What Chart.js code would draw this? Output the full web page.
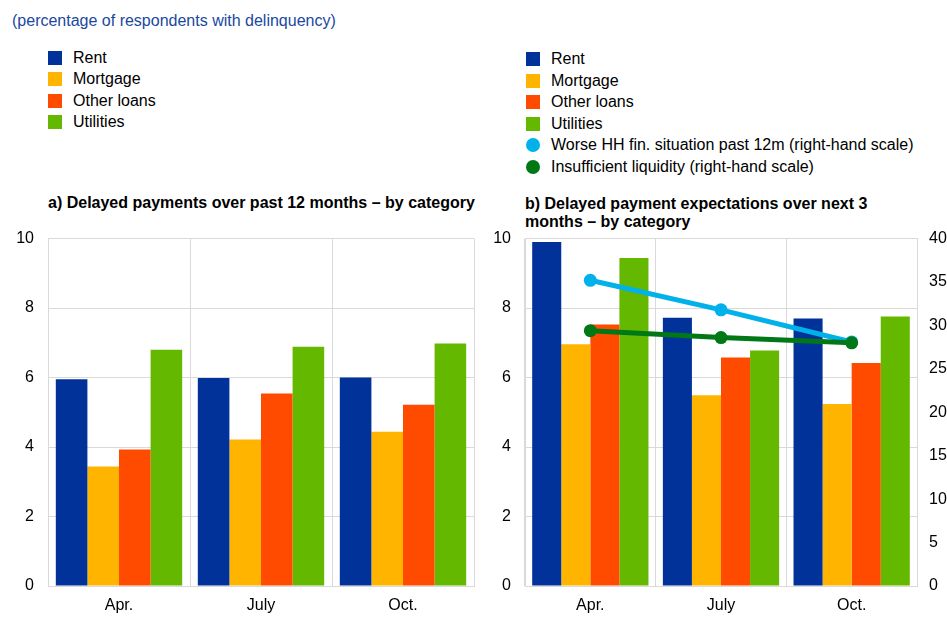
<!DOCTYPE html>
<html>
<head>
<meta charset="utf-8">
<script src="https://cdn.jsdelivr.net/npm/chart.js@4.4.1/dist/chart.umd.min.js"></script>
<style>
  html, body { margin: 0; padding: 0; background: #fff; }
  body { width: 947px; height: 627px; position: relative; overflow: hidden;
         font-family: "Liberation Sans", Arial, sans-serif; color: #000; }
  .unit { position: absolute; left: 12px; top: 12px; font-size: 16px; color: #1a48a0; }
  .legend { position: absolute; font-size: 16px; line-height: 21.6px; }
  .legend div { position: relative; padding-left: 25px; white-space: nowrap; }
  .legend i { position: absolute; left: 0; top: 4px; width: 14px; height: 14px; }
  .legend i.dot { border-radius: 50%; }
  .title { position: absolute; font-size: 16px; font-weight: bold; line-height: 18px; }
  canvas { position: absolute; }
</style>
</head>
<body>
<div class="unit">(percentage of respondents with delinquency)</div>
<div class="legend" id="legendA" style="left:48px; top:46.5px;"></div>
<div class="legend" id="legendB" style="left:526px; top:48px;"></div>
<div class="title" style="left:48px; top:194px;">a) Delayed payments over past 12 months – by category</div>
<div class="title" style="left:525px; top:195px;">b) Delayed payment expectations over next 3<br>months – by category</div>
<div id="wrapA" style="position:absolute; left:0; top:215px; width:480px; height:412px;"><canvas id="chartA"></canvas></div>
<div id="wrapB" style="position:absolute; left:490px; top:215px; width:457px; height:412px;"><canvas id="chartB"></canvas></div>

<script>
// survey rounds
const categories = ['Apr.', 'July', 'Oct.'];

// a) delayed payments over past 12 months (% of respondents)
const pastRent = [5.95, 5.99, 6.00];
const pastMortgage = [3.44, 4.22, 4.44];
const pastOtherLoans = [3.93, 5.54, 5.22];
const pastUtilities = [6.80, 6.89, 6.98];

// b) expected delayed payments over next 3 months (% of respondents)
const nextRent = [9.90, 7.72, 7.70];
const nextMortgage = [6.96, 5.49, 5.24];
const nextOtherLoans = [7.53, 6.58, 6.42];
const nextUtilities = [9.44, 6.78, 7.76];

// right-hand scale series
const worseFinSituation = [35.2, 31.8, 28.1];
const insufficientLiquidity = [29.4, 28.6, 28.0];

const leftTicks = [0, 2, 4, 6, 8, 10];
const rightTicks = [0, 5, 10, 15, 20, 25, 30, 35, 40];

const barNames = ['Rent', 'Mortgage', 'Other loans', 'Utilities'];
const lineNames = ['Worse HH fin. situation past 12m (right-hand scale)', 'Insufficient liquidity (right-hand scale)'];

const barColors = ['#003299', '#ffb400', '#ff4b00', '#65b800'];
const lineColors = ['#00b1ea', '#007816'];

const FONT = '"Liberation Sans", Arial, sans-serif';
const GRID = '#d9d9d9';

function buildLegend(el, names, colors, dot) {
    names.forEach((name, i) => {
        const row = document.createElement('div');
        const swatch = document.createElement('i');
        swatch.style.background = colors[i];
        if (dot) swatch.className = 'dot';
        row.appendChild(swatch);
        row.appendChild(document.createTextNode(name));
        el.appendChild(row);
    });
}

buildLegend(document.getElementById('legendA'), barNames, barColors, false);
buildLegend(document.getElementById('legendB'), barNames, barColors, false);
buildLegend(document.getElementById('legendB'), lineNames, lineColors, true);

function barSet(label, data, color) {
    return {
        type: 'bar',
        label,
        data,
        backgroundColor: color,
        borderWidth: 0,
        barPercentage: 1,
        categoryPercentage: 0.89,
        yAxisID: 'y',
        order: 3,
    };
}

function lineSet(label, data, color, order) {
    return {
        type: 'line',
        label,
        data,
        borderColor: color,
        backgroundColor: color,
        borderWidth: 5,
        pointRadius: 6.5,
        pointHoverRadius: 6.5,
        pointBorderWidth: 0,
        yAxisID: 'y2',
        order,
    };
}

function leftAxis(width) {
    return {
        position: 'left',
        min: 0,
        max: 10,
        afterBuildTicks: (axis) => { axis.ticks = leftTicks.map(v => ({ value: v })); },
        afterFit: (axis) => { axis.width = width; },
        grid: { color: GRID, lineWidth: 1, drawTicks: false },
        border: { color: GRID },
        ticks: { color: '#000', padding: 14, font: { family: FONT, size: 16 } },
    };
}

const xAxis = {
    afterFit: (axis) => { axis.height = 41; },
    grid: { color: GRID, lineWidth: 1, drawTicks: false, offset: true },
    border: { color: GRID },
    ticks: { color: '#000', padding: 10, font: { family: FONT, size: 16 } },
};

const common = {
    responsive: true,
    maintainAspectRatio: false,
    animation: false,
    plugins: { legend: { display: false }, title: { display: false }, tooltip: { enabled: false } },
};

new Chart(document.getElementById('chartA'), {
    type: 'bar',
    data: {
        labels: categories,
        datasets: [
            barSet('Rent', pastRent, barColors[0]),
            barSet('Mortgage', pastMortgage, barColors[1]),
            barSet('Other loans', pastOtherLoans, barColors[2]),
            barSet('Utilities', pastUtilities, barColors[3]),
        ],
    },
    options: {
        ...common,
        layout: { padding: { top: 10, right: 6, left: 0, bottom: 0 } },
        scales: { x: xAxis, y: leftAxis(48) },
    },
});

new Chart(document.getElementById('chartB'), {
    type: 'bar',
    data: {
        labels: categories,
        datasets: [
            barSet('Rent', nextRent, barColors[0]),
            barSet('Mortgage', nextMortgage, barColors[1]),
            barSet('Other loans', nextOtherLoans, barColors[2]),
            barSet('Utilities', nextUtilities, barColors[3]),
            lineSet(lineNames[0], worseFinSituation, lineColors[0], 2),
            lineSet(lineNames[1], insufficientLiquidity, lineColors[1], 1),
        ],
    },
    options: {
        ...common,
        layout: { padding: { top: 10, right: 0, left: 0, bottom: 0 } },
        scales: {
            x: xAxis,
            y: leftAxis(35),
            y2: {
                position: 'right',
                min: 0,
                max: 40,
                afterBuildTicks: (axis) => { axis.ticks = rightTicks.map(v => ({ value: v })); },
                afterFit: (axis) => { axis.width = 30; },
                grid: { display: false, drawTicks: false },
                border: { color: GRID },
                ticks: { color: '#000', padding: 12, font: { family: FONT, size: 16 } },
            },
        },
    },
});
</script>
</body>
</html>
